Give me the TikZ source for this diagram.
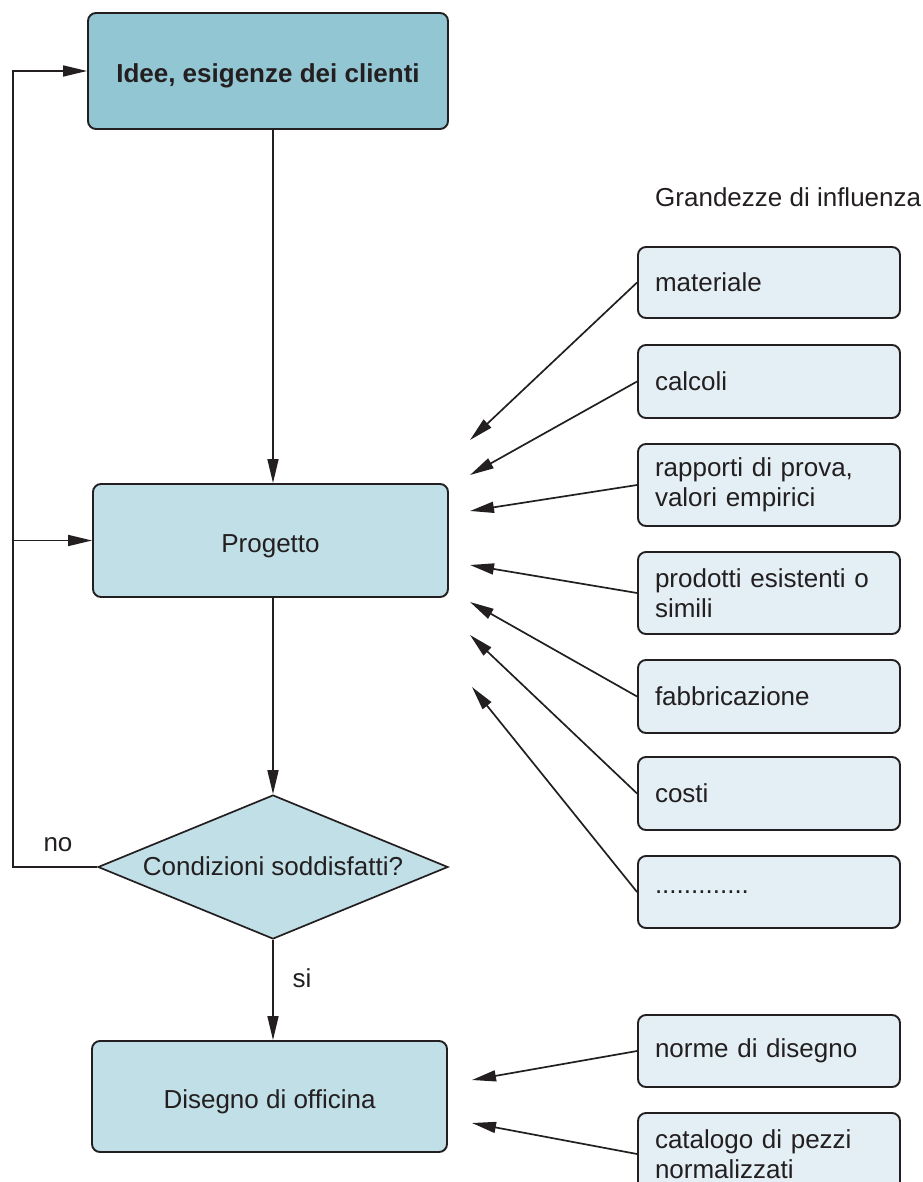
\documentclass[tikz,border=0pt]{standalone}
\usepackage{fontspec}
\setmainfont{Liberation Sans}
\usetikzlibrary{shapes.geometric,arrows.meta}
\definecolor{ink}{HTML}{231F20}
\definecolor{dark}{HTML}{93C6D3}
\definecolor{mid}{HTML}{C1DFE6}
\definecolor{pale}{HTML}{E3EFF4}
\begin{document}
\begin{tikzpicture}[x=1pt,y=-1pt,
 font=\fontsize{26}{30}\selectfont, text=ink,
 mainbox/.style={draw=ink, line width=1.9pt, rounded corners=8pt, inner sep=0pt, align=center, text height=28pt, text depth=5pt},
 infobox/.style={draw=ink, fill=pale, line width=1.9pt, rounded corners=8pt, minimum width=262pt, text width=228pt, align=left, inner xsep=17pt, inner ysep=0pt},
 conn/.style={draw=ink, line width=1.7pt},
 arr/.style={conn, -{Triangle[length=24pt,width=11pt]}},
 lbl/.style={inner sep=0pt}
]
\useasboundingbox (0,0) rectangle (922,1182);

% main flow
\node[mainbox, fill=dark, minimum width=360pt, minimum height=116pt, font=\fontsize{26}{30}\selectfont\bfseries] (idee) at (268,71) {Idee, esigenze dei clienti};
\node[mainbox, fill=mid, minimum width=355pt, minimum height=113pt] (prog) at (270.5,540.5) {Progetto};
\node[draw=ink, fill=mid, line width=1.7pt, diamond, aspect=2.43, minimum width=350pt, minimum height=144pt, inner sep=0pt, text height=22pt, text depth=5pt] (cond) at (273,867) {Condizioni soddisfatti?};
\node[mainbox, fill=mid, minimum width=355pt, minimum height=111pt] (dis) at (269.5,1096.5) {Disegno di officina};

\draw[arr] (idee.south -| cond.north) -- (prog.north -| cond.north);
\draw[arr] (prog.south -| cond.north) -- (cond.north);
\draw[arr] (cond.south) -- (dis.north -| cond.south);

\coordinate (fb) at (13,867);
\draw[arr] (cond.west) -- (fb) |- (idee.west);
\draw[arr] (fb |- prog.west) -- (prog.west);

\node[lbl] (no) at (58,845) {no};
\node[lbl] (si) at (302,978) {si};

% influence factors
\node[lbl, anchor=west] (gr) at (655,197) {Grandezze di influenza};

\node[infobox, minimum height=71pt] (b1) at (769,282.5) {materiale};
\node[infobox, minimum height=73pt] (b2) at (769,381.5) {calcoli};
\node[infobox, minimum height=82pt] (b3) at (769,485) {rapporti di prova,\\valori empirici};
\node[infobox, minimum height=82pt] (b4) at (769,593) {prodotti esistenti o\\simili};
\node[infobox, minimum height=73pt] (b5) at (769,696.5) {fabbricazione};
\node[infobox, minimum height=73pt] (b6) at (769,793.5) {costi};
\node[infobox, minimum height=72pt] (b7) at (769,892) {.............};
\node[infobox, minimum height=72pt] (b8) at (769,1051) {norme di disegno};
\node[infobox, minimum height=82pt] (b9) at (769,1154) {catalogo di pezzi\\normalizzati};

\coordinate (t1) at (470,440);
\coordinate (t2) at (470,475);
\coordinate (t3) at (470,511);
\coordinate (t4) at (470,565);
\coordinate (t5) at (470,602);
\coordinate (t6) at (470,635);
\coordinate (t7) at (472,687);
\coordinate (t8) at (472,1080);
\coordinate (t9) at (472,1123);

\draw[arr] (b1.west) -- (t1);
\draw[arr] (b2.west) -- (t2);
\draw[arr] (b3.west) -- (t3);
\draw[arr] (b4.west) -- (t4);
\draw[arr] (b5.west) -- (t5);
\draw[arr] (b6.west) -- (t6);
\draw[arr] (b7.west) -- (t7);
\draw[arr] (b8.west) -- (t8);
\draw[arr] (b9.west) -- (t9);
\end{tikzpicture}
\end{document}
